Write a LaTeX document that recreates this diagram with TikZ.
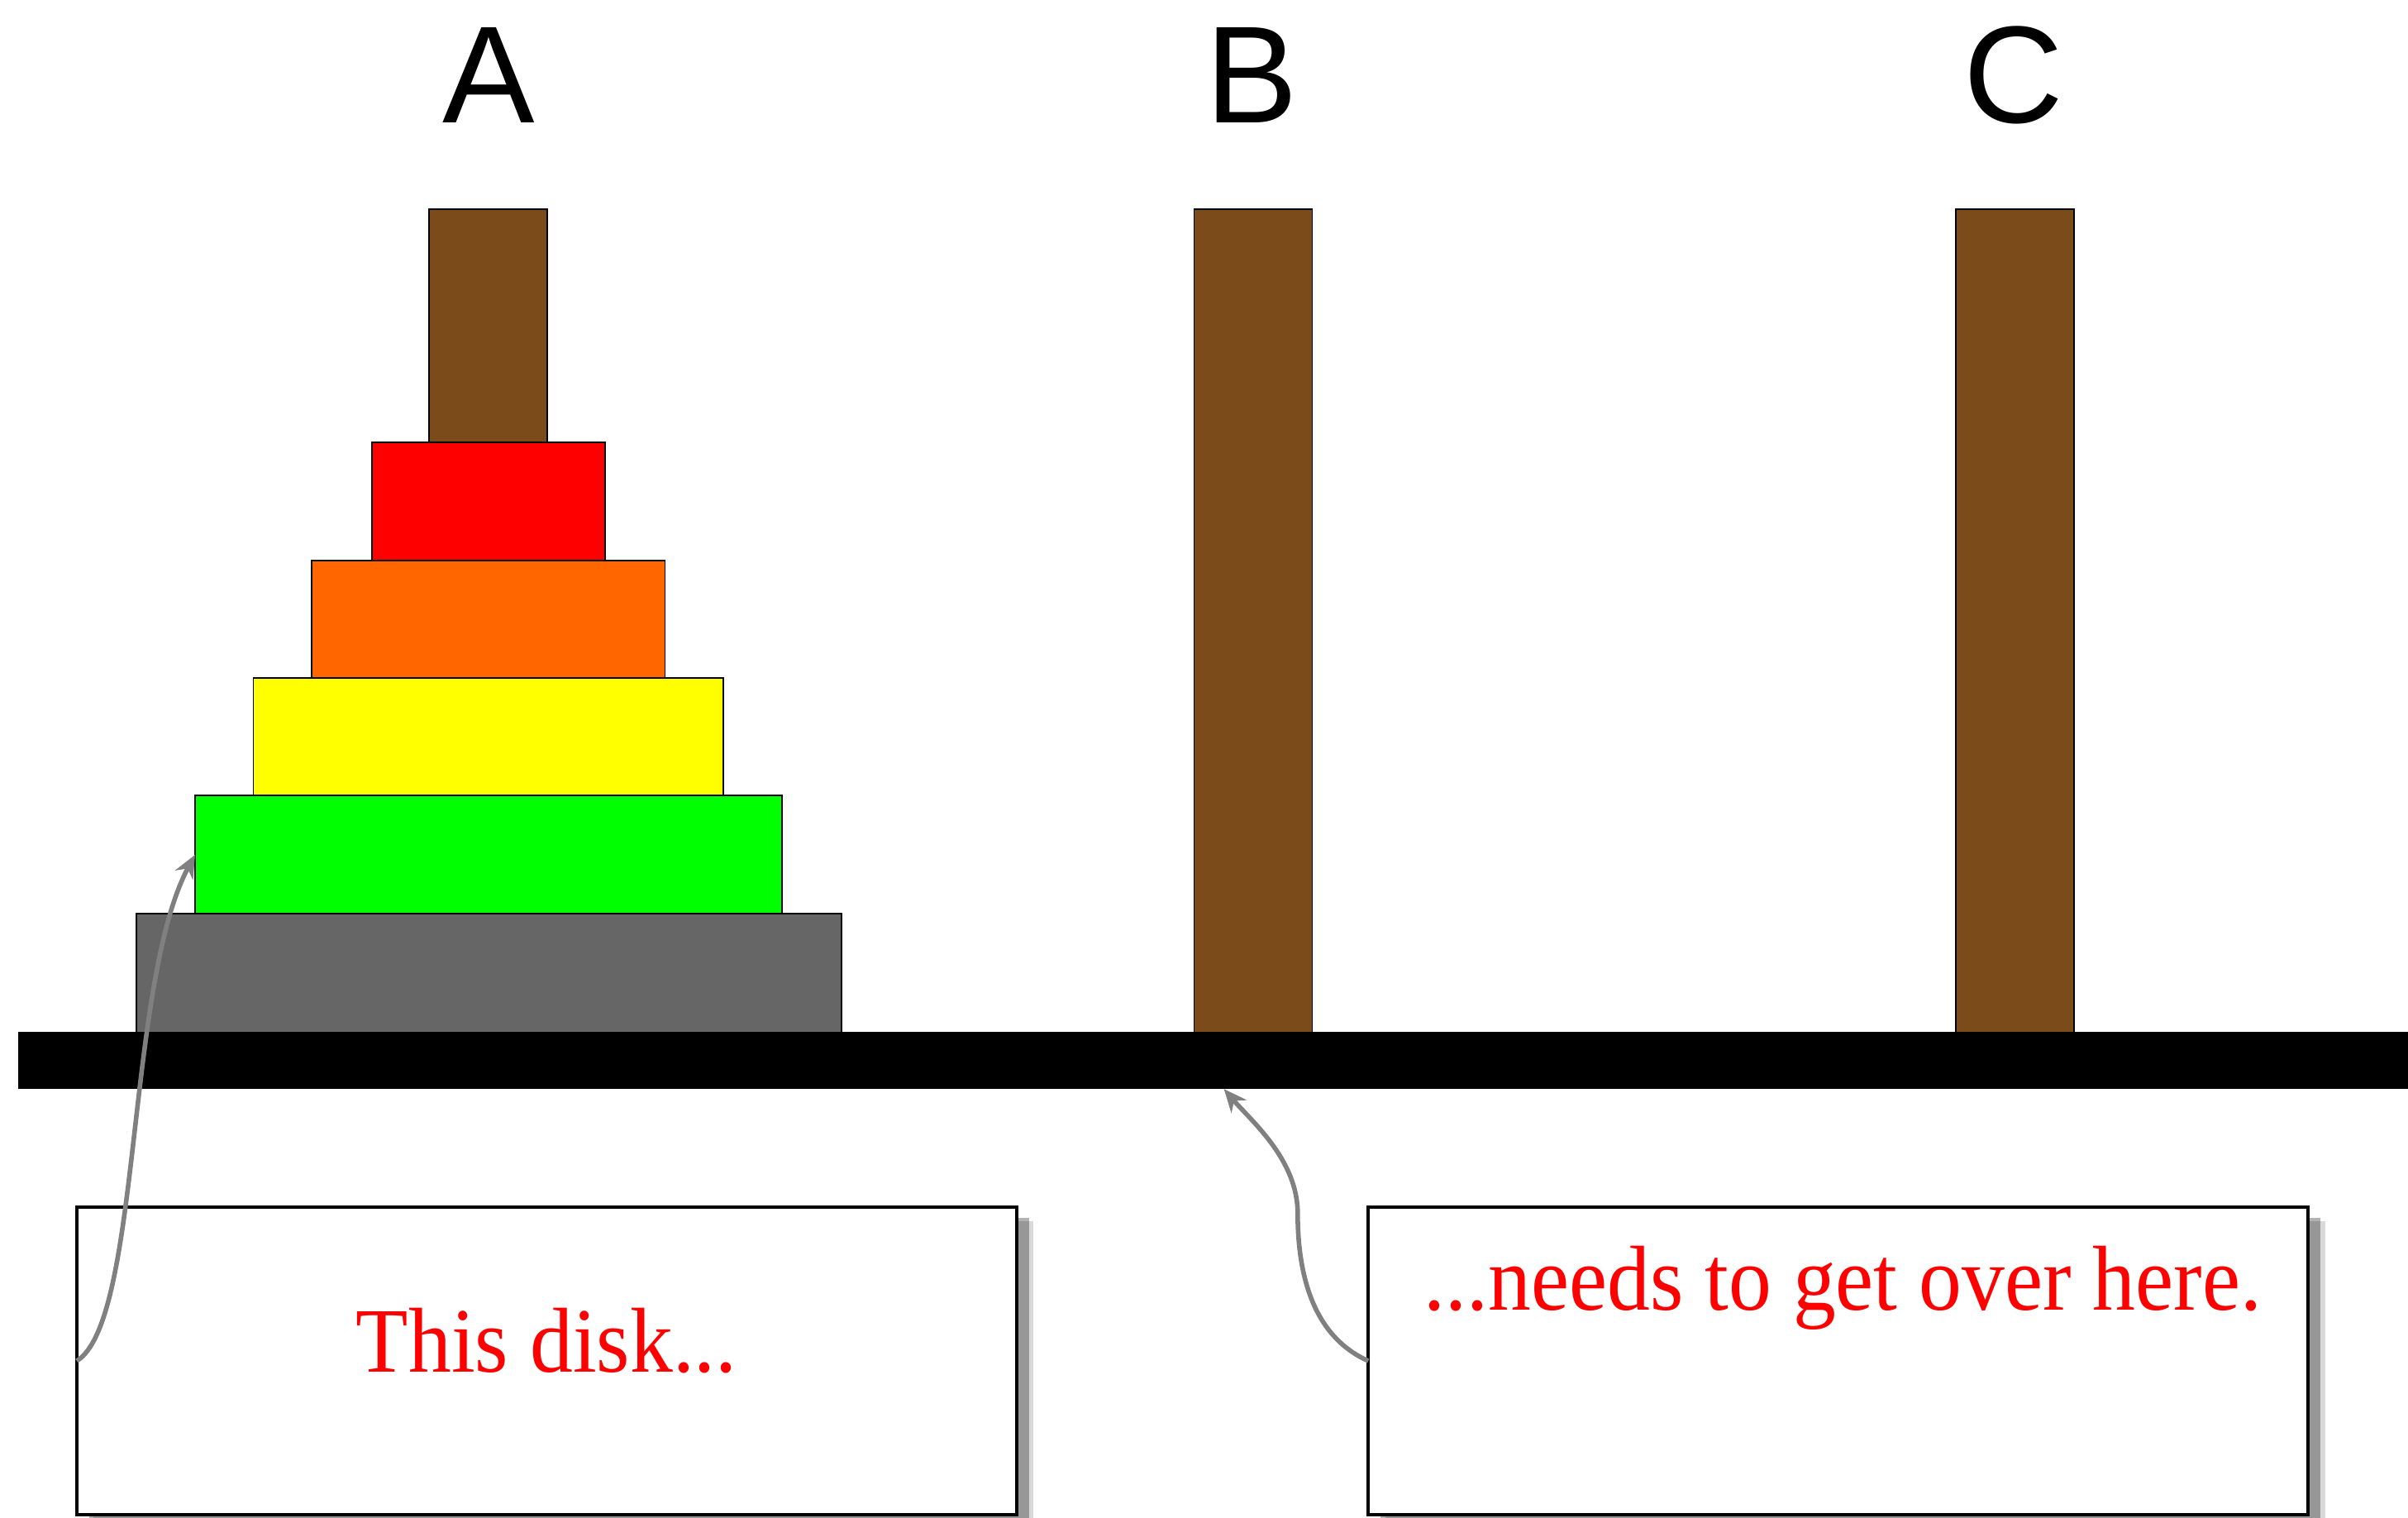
\documentclass[tikz,border=0pt]{standalone}
\usepackage{fontspec}
\setmainfont{Liberation Serif}
\newfontfamily\labelfont{Liberation Sans}
\usetikzlibrary{shadows,arrows.meta}
\definecolor{pegbrown}{RGB}{123,75,26}
\definecolor{diskred}{RGB}{255,0,0}
\definecolor{diskorange}{RGB}{255,102,0}
\definecolor{diskyellow}{RGB}{255,255,0}
\definecolor{diskgreen}{RGB}{0,255,0}
\definecolor{diskgray}{RGB}{102,102,102}
\begin{document}
\begin{tikzpicture}[x=1pt,y=-1pt,
  peg/.style={draw=black, line width=1pt, fill=pegbrown, inner sep=0pt, outer sep=0pt, minimum width=77pt, minimum height=536pt},
  disk/.style={draw=black, line width=1pt, inner sep=0pt, outer sep=0pt, minimum height=77pt},
  note/.style={draw=black, line width=2.2pt, fill=white, inner sep=0pt, outer sep=0pt, minimum width=612pt, minimum height=200pt,
    drop shadow={shadow xshift=11pt, shadow yshift=-9pt, fill=black, opacity=0.15},
    drop shadow={shadow xshift=8pt, shadow yshift=-7pt, fill=black, opacity=0.3}},
  notetext/.style={text=red, font=\fontsize{60}{66}\selectfont, inner sep=0pt, anchor=base},
  pointer/.style={draw=gray, line width=3pt, -{Stealth[length=15pt,width=13pt]}},
  pegname/.style={font=\labelfont\fontsize{90}{100}\selectfont, anchor=base, inner sep=0pt}]
\useasboundingbox (0,0) rectangle (1568,988);
% labels
\node[pegname] (la) at (318,80) {A};
\node[pegname] (lb) at (815,80) {B};
\node[pegname] (lc) at (1311,80) {C};
% pegs
\node[peg] (pegA) at (318,404) {};
\node[peg] (pegB) at (816,404) {};
\node[peg] (pegC) at (1312,404) {};
% disks
\node[disk, fill=diskred, minimum width=152pt] (red) at (318,326.5) {};
\node[disk, fill=diskorange, minimum width=230pt] (orange) at (318,403.5) {};
\node[disk, fill=diskyellow, minimum width=306pt] (yellow) at (318,480) {};
\node[disk, fill=diskgreen, minimum width=382pt] (green) at (318,556.5) {};
\node[disk, fill=diskgray, minimum width=459pt] (gray) at (318.5,633.5) {};
% base
\node[fill=black, inner sep=0pt, outer sep=0pt, minimum width=1556pt, minimum height=37pt] (base) at (790,690.5) {};
% notes
\node[note] (box1) at (356,886) {};
\node[note] (box2) at (1197,886) {};
\node[notetext] (t1) at (356,893) {\scalebox{0.93}[1]{This disk...}};
\node[notetext] (t2) at (1200,853) {\scalebox{0.93}[1]{...needs to get over here.}};
% pointers
\coordinate (target) at (797,709);
\draw[pointer] (box1.west) .. controls (92,860) and (82,640) .. (green.west);
\draw[pointer] (box2.west) .. controls (855,870) and (845,830) .. (845,790)
  .. controls (845,755) and (815,730) .. (target);
\end{tikzpicture}
\end{document}
